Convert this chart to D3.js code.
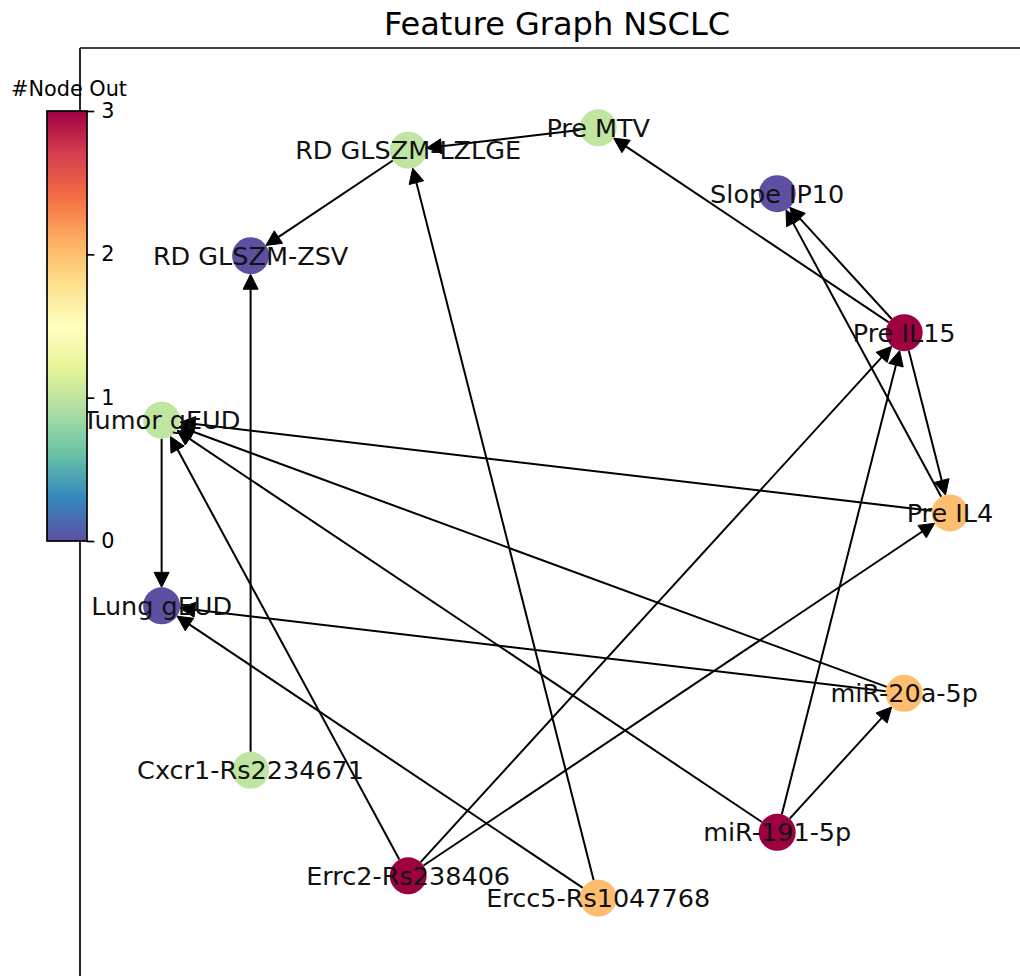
<!DOCTYPE html>
<html>
<head>
<meta charset="utf-8">
<script src="https://cdn.jsdelivr.net/npm/d3@7"></script>
<style>
  html, body { margin: 0; padding: 0; background: #fff; }
  svg { display: block; }
  text { font-family: "DejaVu Sans", sans-serif; }
</style>
</head>
<body>
<svg id="chart" width="1020" height="976"></svg>
<script>
// ---- data ----
const chartTitle = "Feature Graph NSCLC";
const colorbarTitle = "#Node Out";
const nodeNames = ["Pre IL4", "Pre IL15", "Slope IP10", "Pre MTV", "RD GLSZM-LZLGE", "RD GLSZM-ZSV",
  "Tumor gEUD", "Lung gEUD", "Cxcr1-Rs2234671", "Errc2-Rs238406", "Ercc5-Rs1047768", "miR-191-5p", "miR-20a-5p"];
const edgeSources = ["Pre MTV", "RD GLSZM-LZLGE", "Pre IL15", "Pre IL15", "Pre IL15", "Pre IL4", "Pre IL4",
  "Tumor gEUD", "miR-20a-5p", "miR-20a-5p", "miR-191-5p", "miR-191-5p", "miR-191-5p",
  "Errc2-Rs238406", "Errc2-Rs238406", "Errc2-Rs238406", "Ercc5-Rs1047768", "Ercc5-Rs1047768", "Cxcr1-Rs2234671"];
const edgeTargets = ["RD GLSZM-LZLGE", "RD GLSZM-ZSV", "Pre MTV", "Slope IP10", "Pre IL4", "Slope IP10", "Tumor gEUD",
  "Lung gEUD", "Lung gEUD", "Tumor gEUD", "miR-20a-5p", "Pre IL15", "Tumor gEUD",
  "Tumor gEUD", "Pre IL15", "Pre IL4", "RD GLSZM-LZLGE", "Lung gEUD", "RD GLSZM-ZSV"];
const colorbarTicks = [0, 1, 2, 3];
const spectralColors = ["#9e0142", "#d53e4f", "#f46d43", "#fdae61", "#fee08b", "#ffffbf",
  "#e6f598", "#abdda4", "#66c2a5", "#3288bd", "#5e4fa2"];

// ---- layout ----
const svg = d3.select("#chart");
const axLeft = 80, axTop = 48, axRight = 1034, axBottom = 1000;
const x = d3.scaleLinear().domain([-1, 1]).range([150, 950]);
const y = d3.scaleLinear().domain([-1, 1]).range([901, 125]);

const n = nodeNames.length;
const nodes = nodeNames.map((name, i) => {
  const a = 2 * Math.PI * i / n;
  return { name, px: Math.cos(a), py: Math.sin(a) };
});
const byName = new Map(nodes.map(d => [d.name, d]));
const outDeg = new Map(nodeNames.map(nm => [nm, 0]));
edgeSources.forEach(s => outDeg.set(s, outDeg.get(s) + 1));

const spectral = d3.piecewise(d3.interpolateRgb, spectralColors);
const cmax = d3.max(colorbarTicks);
const color = v => spectral(1 - v / cmax);

const nodeR = 18.5;
const headLen = 15, headHalf = 7.5;

// ---- edges ----
const edgeG = svg.append("g");
edgeSources.forEach((s, i) => {
  const a = byName.get(s), b = byName.get(edgeTargets[i]);
  const x1 = x(a.px), y1 = y(a.py), x2 = x(b.px), y2 = y(b.py);
  const L = Math.hypot(x2 - x1, y2 - y1);
  const ux = (x2 - x1) / L, uy = (y2 - y1) / L;
  const sx = x1 + ux * nodeR, sy = y1 + uy * nodeR;
  const tx = x2 - ux * nodeR, ty = y2 - uy * nodeR;
  const bx = tx - ux * headLen, by = ty - uy * headLen;
  edgeG.append("line")
    .attr("x1", sx).attr("y1", sy).attr("x2", bx + ux * 2).attr("y2", by + uy * 2)
    .attr("stroke", "#000").attr("stroke-width", 2);
  const px = -uy, py = ux;
  edgeG.append("path")
    .attr("d", `M${tx},${ty}L${bx + px * headHalf},${by + py * headHalf}L${bx - px * headHalf},${by - py * headHalf}Z`)
    .attr("fill", "#000").attr("stroke", "#000").attr("stroke-width", 1).attr("stroke-linejoin", "miter");
});

// ---- nodes ----
svg.append("g").selectAll("circle").data(nodes).join("circle")
  .attr("cx", d => x(d.px)).attr("cy", d => y(d.py)).attr("r", nodeR)
  .attr("fill", d => color(outDeg.get(d.name)));

// ---- spines ----
svg.append("line").attr("x1", axLeft).attr("x2", axLeft).attr("y1", axTop).attr("y2", axBottom)
  .attr("stroke", "#000").attr("stroke-width", 1.7);
svg.append("line").attr("x1", axLeft).attr("x2", axRight).attr("y1", axTop).attr("y2", axTop)
  .attr("stroke", "#000").attr("stroke-width", 1.7);

// ---- labels ----
const labelSize = 25.5;
svg.append("g").selectAll("text").data(nodes).join("text")
  .attr("x", d => x(d.px)).attr("y", d => y(d.py) + labelSize * 0.36)
  .attr("text-anchor", "middle").attr("font-size", labelSize).attr("fill", "#111")
  .text(d => d.name);

// ---- title ----
svg.append("text").attr("x", (axLeft + axRight) / 2).attr("y", 35)
  .attr("text-anchor", "middle").attr("font-size", 32).attr("fill", "#000").text(chartTitle);

// ---- colorbar ----
const cbX = 47, cbW = 40, cbTop = 111, cbBottom = 541;
const cy = d3.scaleLinear().domain([0, cmax]).range([cbBottom, cbTop]);
const defs = svg.append("defs");
const grad = defs.append("linearGradient").attr("id", "cbgrad")
  .attr("x1", 0).attr("y1", 1).attr("x2", 0).attr("y2", 0);
d3.range(0, 1.0001, 0.02).forEach(t => {
  grad.append("stop").attr("offset", t).attr("stop-color", color(t * cmax));
});
const cb = svg.append("g");
cb.append("rect").attr("x", cbX).attr("y", cbTop).attr("width", cbW).attr("height", cbBottom - cbTop)
  .attr("fill", "url(#cbgrad)");
cb.append("rect").attr("x", cbX).attr("y", cbTop).attr("width", cbW).attr("height", cbBottom - cbTop)
  .attr("fill", "none").attr("stroke", "#000").attr("stroke-width", 1.7);
const cbAxis = d3.axisRight(cy).tickValues(colorbarTicks).tickFormat(d3.format("d"))
  .tickSize(7.3).tickPadding(7);
const axG = cb.append("g").attr("transform", `translate(${cbX + cbW},0)`).call(cbAxis);
axG.select(".domain").remove();
axG.selectAll(".tick line").attr("stroke", "#000").attr("stroke-width", 1.7);
axG.selectAll(".tick text").attr("font-size", 20.8).attr("fill", "#000")
  .attr("font-family", "DejaVu Sans, sans-serif");
cb.append("text").attr("x", cbX + cbW / 2 + 2).attr("y", 96).attr("text-anchor", "middle")
  .attr("font-size", 20.8).attr("fill", "#000").text(colorbarTitle);
</script>
</body>
</html>
